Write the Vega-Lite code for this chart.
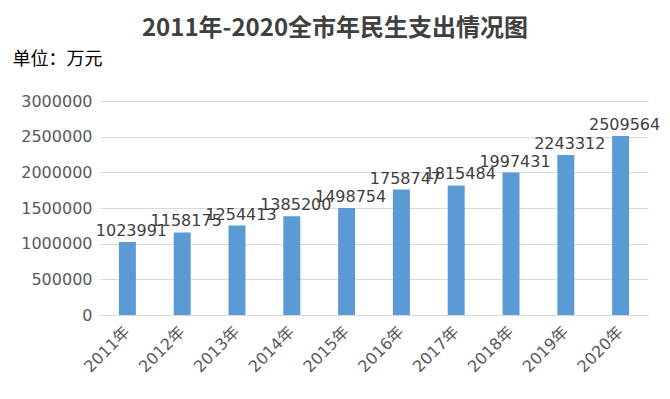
{
  "$schema": "https://vega.github.io/schema/vega-lite/v6.json",
  "width": 548,
  "height": 214,
  "autosize": {"type": "none"},
  "padding": {"left": 100, "top": 101, "right": 22, "bottom": 84},
  "background": "white",
  "title": {
    "text": "2011年-2020全市年民生支出情况图",
    "font": "Noto Sans CJK SC",
    "fontSize": 24,
    "fontWeight": "bold",
    "color": "#404040",
    "anchor": "middle",
    "dx": -39,
    "offset": 9
  },
  "config": {"view": {"stroke": null}},
  "data": {
    "values": [
      {"year": "2011年", "value": 1023991},
      {"year": "2012年", "value": 1158175},
      {"year": "2013年", "value": 1254413},
      {"year": "2014年", "value": 1385200},
      {"year": "2015年", "value": 1498754},
      {"year": "2016年", "value": 1758747},
      {"year": "2017年", "value": 1815484},
      {"year": "2018年", "value": 1997431},
      {"year": "2019年", "value": 2243312},
      {"year": "2020年", "value": 2509564}
    ]
  },
  "encoding": {
    "x": {
      "field": "year",
      "type": "nominal",
      "sort": null,
      "scale": {"paddingInner": 0.69, "paddingOuter": 0.345},
      "axis": {
        "title": null,
        "labelAngle": -45,
        "labelAlign": "right",
        "labelBaseline": "middle",
        "labelFont": "DejaVu Sans, Noto Sans CJK SC",
        "labelFontSize": 16,
        "labelColor": "#595959",
        "labelPadding": 14,
        "ticks": false,
        "domain": true,
        "domainColor": "#D9D9D9",
        "grid": false
      }
    },
    "y": {
      "field": "value",
      "type": "quantitative",
      "scale": {"domain": [0, 3000000], "nice": false},
      "axis": {
        "title": "单位：万元",
        "titleAngle": 0,
        "titleAlign": "left",
        "titleBaseline": "middle",
        "titleX": -88,
        "titleY": -42,
        "titleFont": "Noto Sans CJK SC",
        "titleFontSize": 18,
        "titleFontWeight": "normal",
        "titleColor": "#000000",
        "values": [0, 500000, 1000000, 1500000, 2000000, 2500000, 3000000],
        "format": "d",
        "labelFont": "DejaVu Sans",
        "labelFontSize": 16,
        "labelColor": "#595959",
        "labelPadding": 8,
        "ticks": false,
        "domain": false,
        "grid": true,
        "gridColor": "#D9D9D9"
      }
    }
  },
  "layer": [
    {"mark": {"type": "bar", "color": "#5B9BD5"}},
    {
      "mark": {
        "type": "text",
        "font": "DejaVu Sans",
        "fontSize": 16,
        "color": "#404040",
        "baseline": "bottom",
        "dy": -3,
        "dx": 4
      },
      "encoding": {"text": {"field": "value", "type": "quantitative", "format": "d"}}
    }
  ]
}
